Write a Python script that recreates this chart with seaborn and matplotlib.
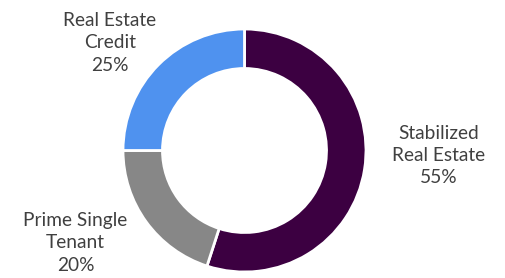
import matplotlib
matplotlib.use('Agg')
import matplotlib.pyplot as plt
import seaborn as sns

# Portfolio allocation data
segments = ['Stabilized\nReal Estate', 'Prime Single\nTenant', 'Real Estate\nCredit']
shares = [55, 20, 25]
colors = ['#3c0041', '#878787', '#4f92ef']

sns.set_theme(style='white')
plt.rcParams['font.family'] = ['Lato', 'DejaVu Sans']

fig = plt.figure(figsize=(5.05, 2.78), dpi=100)
ax = fig.add_axes([123 / 505, 6 / 278, 243 / 505, 243 / 278])

wedges, _ = ax.pie(shares, colors=colors, startangle=90, counterclock=False,
                   radius=1.0, wedgeprops=dict(width=0.325, edgecolor='white', linewidth=2))
ax.set_xlim(-1, 1)
ax.set_ylim(-1, 1)
ax.set_aspect('equal')
ax.axis('off')

# Label positions, in units of the pie radius
label_pos = [(1.60, -0.04), (-1.39, -0.76), (-1.11, 0.885)]
for name, val, (lx, ly) in zip(segments, shares, label_pos):
    ax.text(lx, ly, f'{name}\n{val}%', ha='center', va='center', fontsize=13.8,
            color='#404040', linespacing=1.38, clip_on=False)

fig.savefig('out.png', dpi=100)
